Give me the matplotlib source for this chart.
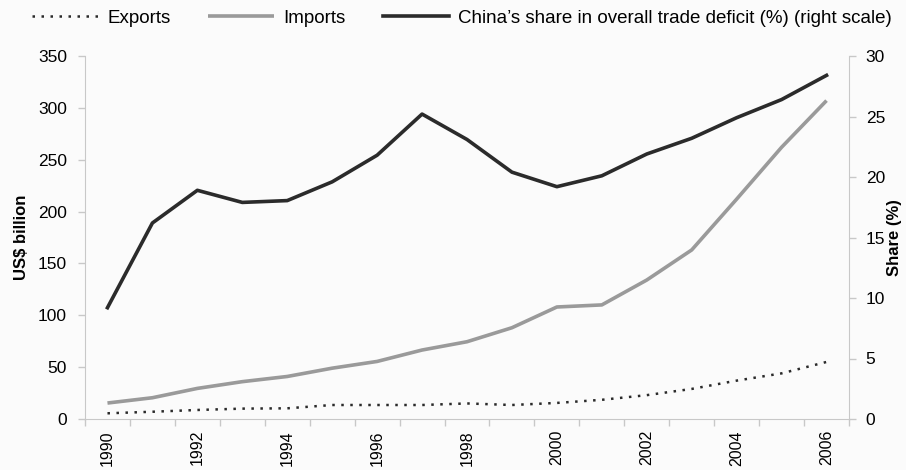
import matplotlib
matplotlib.use('Agg')
import matplotlib.pyplot as plt

plt.rcParams['font.family'] = ['Liberation Sans', 'DejaVu Sans']

years = list(range(1990, 2007))
exports = [5.5, 7, 8.7, 10, 10.3, 13.5, 13.5, 13.5, 15, 13.5, 15.5, 18.5, 23, 29, 37, 44, 55]
imports = [15.4, 20.5, 29.5, 36, 41, 49, 55.5, 66.5, 74.5, 88, 108, 110, 134, 163, 212, 262, 307]
share = [9.2, 16.2, 18.9, 17.9, 18.05, 19.6, 21.8, 25.2, 23.1, 20.4, 19.2, 20.1, 21.9, 23.2, 24.9, 26.4, 28.4]

bg = '#fbfbfb'
spine_col = '#c8c8c8'

fig = plt.figure(figsize=(9.06, 4.70), dpi=100, facecolor=bg)
ax = fig.add_axes([85/906, 1-419/470, (849-85)/906, (419-56)/470])
ax.set_facecolor(bg)
ax2 = ax.twinx()

l1, = ax.plot(years, exports, color='#2a2a2a', lw=1.8, ls=(0, (1, 2.6)), label='Exports')
l2, = ax.plot(years, imports, color='#9a9a9a', lw=2.6, label='Imports', solid_capstyle='butt')
l3, = ax2.plot(years, share, color='#2b2b2b', lw=2.6,
               label="China\u2019s share in overall trade deficit (%) (right scale)")

ax.set_xlim(1989.5, 2006.5)
ax.set_ylim(0, 350)
ax.set_yticks(range(0, 351, 50))
ax2.set_ylim(0, 30)
ax2.set_yticks(range(0, 31, 5))

# ticks sit between categories, labels on every other year
ax.set_xticks([y - 0.5 for y in years] + [2006.5])
ax.set_xticklabels([])
ax.set_xticks(years[::2], minor=True)
ax.set_xticklabels([str(y) for y in years[::2]], minor=True, rotation=90, fontsize=11.5)
ax.tick_params(axis='x', which='minor', length=0, pad=8)
ax.tick_params(axis='x', which='major', length=5, color=spine_col, width=1)

for a in (ax, ax2):
    for s in a.spines.values():
        s.set_visible(False)
    a.tick_params(axis='y', length=5, color=spine_col, width=1, labelsize=12.5, pad=8)
ax2.tick_params(axis='y', pad=7)
ax.spines['left'].set_visible(True)
ax.spines['left'].set_color(spine_col)
ax.spines['bottom'].set_visible(True)
ax.spines['bottom'].set_color(spine_col)
ax2.spines['right'].set_visible(True)
ax2.spines['right'].set_color(spine_col)

ax.set_ylabel('US$ billion', fontsize=12, fontweight='bold', labelpad=6)
ax2.set_ylabel('Share (%)', fontsize=12, fontweight='bold', labelpad=1)

fig.legend(handles=[l1, l2, l3], loc='center', bbox_to_anchor=(0.51, 1-18/470), ncol=3,
           frameon=False, fontsize=13.5, handlelength=3.5, columnspacing=2.0, handletextpad=0.5)

fig.savefig('out.png', dpi=100, facecolor=bg)
